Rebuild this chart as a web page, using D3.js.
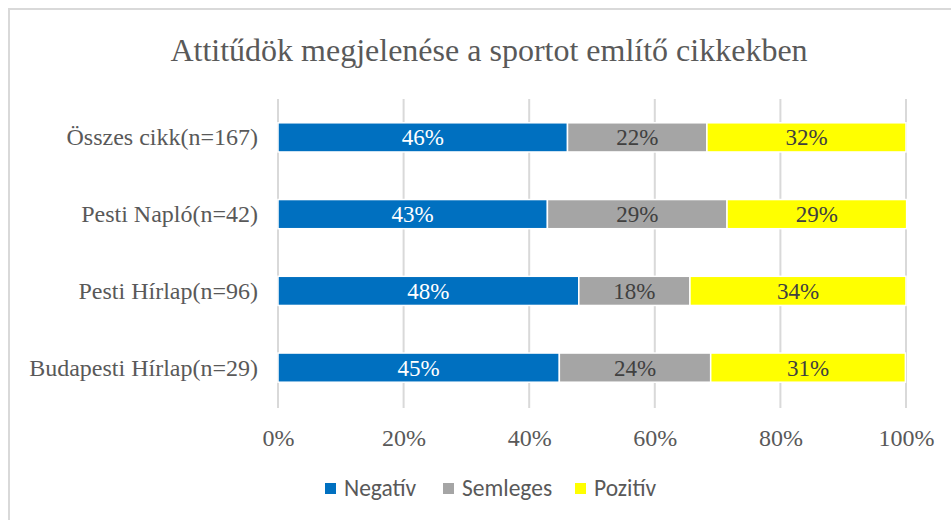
<!DOCTYPE html>
<html>
<head>
<meta charset="utf-8">
<script src="https://cdn.jsdelivr.net/npm/d3@7"></script>
<style>
  body { margin: 0; background: #fff; }
  svg { display: block; }
</style>
</head>
<body>
<svg id="chart" width="951" height="520"></svg>
<script>
// data (shares in %, labels are rounded)
const categories = ['Összes cikk(n=167)', 'Pesti Napló(n=42)', 'Pesti Hírlap(n=96)', 'Budapesti Hírlap(n=29)']
const seriesNames = ['Negatív', 'Semleges', 'Pozitív']
const negativ = [46.1, 42.9, 47.9, 44.8]
const semleges = [22.2, 28.6, 17.7, 24.1]
const pozitiv = [31.7, 28.6, 34.4, 31.0]
const xTicks = [0, 20, 40, 60, 80, 100]

const colors = ['#0070c0', '#a5a5a5', '#ffff00']
const labelColors = ['#ffffff', '#404040', '#404040']
const serif = "'Liberation Serif', 'Times New Roman', serif"
const sans = "Carlito, Lato, sans-serif"

const margin = { top: 99, left: 278, right: 45, bottom: 114 }
const width = 951
const height = 520
const innerWidth = width - margin.left - margin.right
const innerHeight = height - margin.top - margin.bottom

const svg = d3.select('#chart')

// chart frame (only top and left edges are inside the picture)
svg.append('path')
  .attr('d', `M9,${height} V9 H${width}`)
  .attr('fill', 'none')
  .attr('stroke', '#d9d9d9')
  .attr('stroke-width', 2)

svg.append('text')
  .text('Attitűdök megjelenése a sportot említő cikkekben')
  .attr('x', 489).attr('y', 61)
  .attr('text-anchor', 'middle')
  .style('font-family', serif)
  .style('font-size', '32px')
  .attr('fill', '#595959')

const rows = categories.map((c, i) => ({ cat: c, values: [negativ[i], semleges[i], pozitiv[i]] }))

const x = d3.scaleLinear().domain([0, 100]).range([0, innerWidth])
const y = d3.scaleBand().domain(categories).range([0, innerHeight]).paddingInner(0.62).paddingOuter(0.31)

const g = svg.append('g').attr('transform', `translate(${margin.left},${margin.top})`)

// gridlines
g.append('g')
  .selectAll('line')
  .data(xTicks)
  .join('line')
  .attr('x1', d => x(d)).attr('x2', d => x(d))
  .attr('y1', 0).attr('y2', innerHeight + 2)
  .attr('stroke', '#d9d9d9')
  .attr('stroke-width', 2)

// stacked segments
const bars = g.selectAll('.row')
  .data(rows)
  .join('g')
  .attr('class', 'row')
  .attr('transform', d => `translate(0,${y(d.cat)})`)

bars.each(function (d) {
  let acc = 0
  const segs = d.values.map((v, k) => {
    const s = { start: acc, end: acc + v, value: v, k: k }
    acc += v
    return s
  })
  const row = d3.select(this)
  row.selectAll('rect')
    .data(segs)
    .join('rect')
    .attr('x', s => x(s.start))
    .attr('width', s => x(s.end) - x(s.start))
    .attr('y', 0)
    .attr('height', y.bandwidth())
    .attr('fill', s => colors[s.k])
    .attr('stroke', '#fff')
    .attr('stroke-width', 1.5)
  row.selectAll('text')
    .data(segs)
    .join('text')
    .text(s => Math.round(s.value) + '%')
    .attr('x', s => (x(s.start) + x(s.end)) / 2)
    .attr('y', y.bandwidth() / 2 + 8)
    .attr('text-anchor', 'middle')
    .style('font-family', serif)
    .style('font-size', '23px')
    .attr('fill', s => labelColors[s.k])
})

// category axis
g.append('g')
  .selectAll('text')
  .data(categories)
  .join('text')
  .text(d => d)
  .attr('x', -20)
  .attr('y', d => y(d) + y.bandwidth() / 2 + 8)
  .attr('text-anchor', 'end')
  .style('font-family', serif)
  .style('font-size', '24px')
  .attr('fill', '#595959')

// value axis
const xAxis = d3.axisBottom(x).tickValues(xTicks).tickFormat(d => d + '%').tickSize(0).tickPadding(0)
const ax = g.append('g')
  .attr('transform', `translate(0,${innerHeight + 40})`)
  .call(xAxis)
ax.select('.domain').remove()
ax.selectAll('text')
  .attr('dy', 0)
  .style('font-family', serif)
  .style('font-size', '24px')
  .attr('fill', '#595959')

// legend
const legendX = [325, 443, 575]
const legend = svg.append('g').attr('transform', 'translate(0,488)')
seriesNames.forEach((name, k) => {
  legend.append('rect')
    .attr('x', legendX[k]).attr('y', -5)
    .attr('width', 11).attr('height', 11)
    .attr('fill', colors[k])
  legend.append('text')
    .text(name)
    .attr('x', legendX[k] + 19).attr('y', 8)
    .style('font-family', sans)
    .style('font-size', '23.5px')
    .attr('fill', '#595959')
})
</script>
</body>
</html>
